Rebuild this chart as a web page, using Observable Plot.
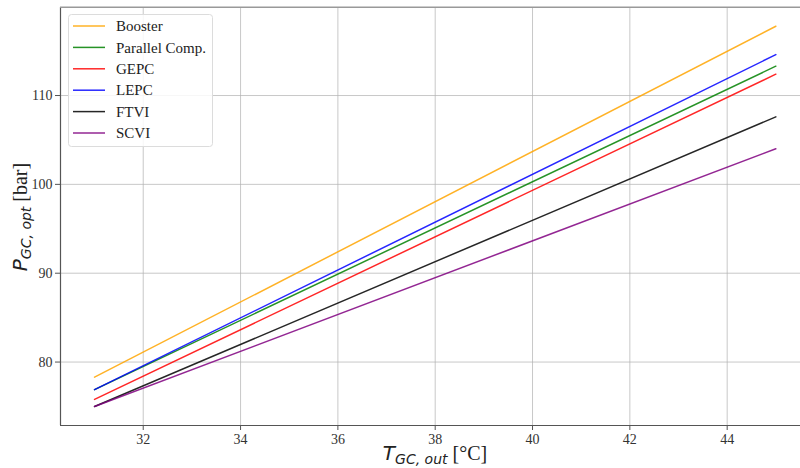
<!DOCTYPE html>
<html>
<head>
<meta charset="utf-8">
<script src="https://cdn.jsdelivr.net/npm/d3@7"></script>
<script src="https://cdn.jsdelivr.net/npm/@observablehq/plot@0.6"></script>
<style>
  html, body { margin: 0; padding: 0; background: #fff; }
  #chart { width: 800px; height: 468px; overflow: hidden; }
</style>
</head>
<body>
<div id="chart"></div>
<script>
// ---- data ----
const tOut = [31, 45];
const names = ["Booster", "Parallel Comp.", "GEPC", "LEPC", "FTVI", "SCVI"];
const colors = ["orange", "green", "red", "blue", "black", "purple"];
const booster  = [78.3, 117.8];
const parallel = [76.9, 113.3];
const gepc     = [75.8, 112.4];
const lepc     = [76.9, 114.6];
const ftvi     = [75.0, 107.6];
const scvi     = [75.0, 104.0];
const xTicks = [32, 34, 36, 38, 40, 42, 44];
const yTicks = [80, 90, 100, 110];

const seriesValues = [booster, parallel, gepc, lepc, ftvi, scvi];
const rows = [];
names.forEach((n, i) => tOut.forEach((t, j) => rows.push({series: n, t, p: seriesValues[i][j]})));

const W = 800, H = 468;
const xDomain = [30.3, 45.7], yDomain = [72.86, 119.94];
const xRange = [60, 809.4], yRange = [425, 6.7];
const serif = "'Liberation Serif', 'Times New Roman', serif";

const plot = Plot.plot({
  width: W, height: H,
  marginLeft: 60, marginTop: 7, marginBottom: 43, marginRight: 0,
  style: {fontFamily: serif, fontSize: "14px", color: "#333", background: "#fff", overflow: "hidden"},
  x: {domain: xDomain, range: xRange, ticks: xTicks, label: null},
  y: {domain: yDomain, range: yRange, ticks: yTicks, label: null},
  color: {domain: names, range: colors},
  marks: [
    Plot.gridX(xTicks, {stroke: "#b0b0b0", strokeOpacity: 0.7, strokeWidth: 1}),
    Plot.gridY(yTicks, {stroke: "#b0b0b0", strokeOpacity: 0.7, strokeWidth: 1}),
    Plot.axisX(xTicks, {tickSize: 5, tickPadding: 4, stroke: "#555", fontSize: 14, fill: "#333"}),
    Plot.axisY(yTicks, {tickSize: 5, tickPadding: 3, stroke: "#555", fontSize: 14, fill: "#333"}),
    Plot.ruleX([xDomain[0]], {stroke: "#555", strokeWidth: 1.2}),
    Plot.ruleY([yDomain[0]], {stroke: "#555", strokeWidth: 1.2}),
    Plot.ruleY([yDomain[1]], {stroke: "#999", strokeWidth: 1.4}),
    Plot.line(rows, {x: "t", y: "p", z: "series", stroke: "series", strokeWidth: 1.5, strokeOpacity: 0.85})
  ]
});
document.getElementById("chart").appendChild(plot);

const svg = d3.select(plot);

// legend
const lg = svg.append("g").attr("text-anchor", "start");
lg.append("rect").attr("x", 68.5).attr("y", 14.5).attr("width", 144).attr("height", 132)
  .attr("rx", 3).attr("fill", "#fff").attr("fill-opacity", 0.85).attr("stroke", "#dcdcdc");
names.forEach((n, i) => {
  const y = 26 + i * 21.4;
  lg.append("line").attr("x1", 73).attr("x2", 105).attr("y1", y).attr("y2", y)
    .attr("stroke", colors[i]).attr("stroke-width", 1.5).attr("stroke-opacity", 0.85);
  lg.append("text").attr("x", 116).attr("y", y).attr("dy", "0.35em").attr("text-anchor", "start")
    .attr("font-family", serif).attr("font-size", 15).attr("fill", "#222").text(n);
});

// x label
const xl = svg.append("text").attr("x", 435).attr("y", 460).attr("text-anchor", "middle").attr("fill", "#222");
xl.append("tspan").attr("font-family", "'DejaVu Sans', sans-serif").attr("font-style", "italic").attr("font-size", 20).text("T");
xl.append("tspan").attr("font-family", "'DejaVu Sans', sans-serif").attr("font-style", "italic").attr("font-size", 14).attr("dy", 4).text("GC, out");
xl.append("tspan").attr("font-family", serif).attr("font-size", 20).attr("dy", -4).text(" [°C]");

// y label
const yl = svg.append("text").attr("transform", "translate(27,217) rotate(-90)").attr("text-anchor", "middle").attr("fill", "#222");
yl.append("tspan").attr("font-family", "'DejaVu Sans', sans-serif").attr("font-style", "italic").attr("font-size", 20).text("P");
yl.append("tspan").attr("font-family", "'DejaVu Sans', sans-serif").attr("font-style", "italic").attr("font-size", 14).attr("dy", 4).text("GC, opt");
yl.append("tspan").attr("font-family", serif).attr("font-size", 20).attr("dy", -4).text(" [bar]");
</script>
</body>
</html>
